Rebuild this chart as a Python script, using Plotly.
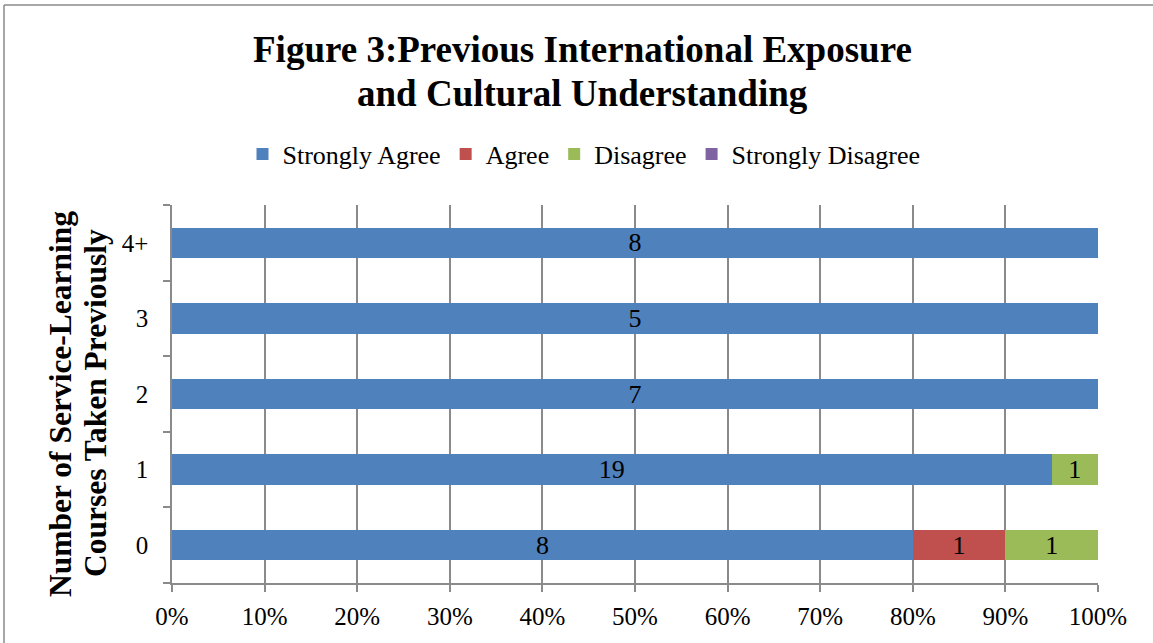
import plotly.graph_objects as go

categories = ["0", "1", "2", "3", "4+"]
strongly_agree = [8, 19, 7, 5, 8]
agree = [1, 0, 0, 0, 0]
disagree = [1, 1, 0, 0, 0]
strongly_disagree = [0, 0, 0, 0, 0]
x_ticks = [0, 10, 20, 30, 40, 50, 60, 70, 80, 90, 100]
x_tick_labels = ["0%", "10%", "20%", "30%", "40%", "50%", "60%", "70%", "80%", "90%", "100%"]
title_lines = ["Figure 3:Previous International Exposure", "and Cultural Understanding"]
y_title_lines = ["Number of Service-Learning", "Courses Taken Previously"]

series = [
    ("Strongly Agree", strongly_agree, "#4F81BD"),
    ("Agree", agree, "#C0504D"),
    ("Disagree", disagree, "#9BBB59"),
    ("Strongly Disagree", strongly_disagree, "#8064A2"),
]

FONT = "Liberation Serif, Times New Roman, serif"

fig = go.Figure()
for name, vals, color in series:
    fig.add_trace(go.Bar(
        y=categories, x=vals, name=name, orientation="h",
        marker=dict(color=color, line=dict(width=0)),
        text=[str(v) if v else "" for v in vals],
        texttemplate="%{text}", textposition="inside", insidetextanchor="middle",
        textfont=dict(family=FONT, size=26, color="black"),
        textangle=0, cliponaxis=False, constraintext="none",
    ))

L, R, T, B = 172, 55, 205, 60
W, H = 1153, 643
pw, ph = W - L - R, H - T - B

def px_x(x):
    return (x - L) / pw

def px_y(y):
    return 1 - (y - T) / ph

GRAY = "#8A8A8A"

annotations = [
    dict(text="<b>" + title_lines[0] + "</b>", xref="paper", yref="paper",
         x=px_x(582), y=px_y(49), xanchor="center", yanchor="middle", showarrow=False,
         font=dict(family=FONT, size=37, color="black")),
    dict(text="<b>" + title_lines[1] + "</b>", xref="paper", yref="paper",
         x=px_x(582), y=px_y(93), xanchor="center", yanchor="middle", showarrow=False,
         font=dict(family=FONT, size=37, color="black")),
    dict(text="<b>" + y_title_lines[0] + "</b>", xref="paper", yref="paper",
         x=px_x(60), y=px_y(404), xanchor="center", yanchor="middle", textangle=-90,
         showarrow=False, font=dict(family=FONT, size=31.5, color="black")),
    dict(text="<b>" + y_title_lines[1] + "</b>", xref="paper", yref="paper",
         x=px_x(95), y=px_y(403), xanchor="center", yanchor="middle", textangle=-90,
         showarrow=False, font=dict(family=FONT, size=31.5, color="black")),
]

fig.update_layout(
    barmode="stack", barnorm="percent", bargap=0.6,
    width=W, height=H,
    margin=dict(l=L, r=R, t=T, b=B, autoexpand=False),
    paper_bgcolor="white", plot_bgcolor="white",
    font=dict(family=FONT, size=25, color="black"),
    legend=dict(
        orientation="h", x=px_x(584), xanchor="center", y=px_y(154), yanchor="middle",
        font=dict(family=FONT, size=26, color="black"),
        traceorder="normal", itemwidth=30,
    ),
    showlegend=True,
    xaxis=dict(
        range=[0, 100], tickvals=x_ticks, ticktext=x_tick_labels,
        showgrid=True, gridcolor=GRAY, gridwidth=1.5,
        showline=True, linecolor=GRAY, linewidth=1.5,
        ticks="outside", ticklen=7, tickcolor=GRAY, tickwidth=1.5,
        tickfont=dict(family=FONT, size=25, color="black"),
        ticklabelstandoff=3,
        zeroline=False, fixedrange=True,
    ),
    yaxis=dict(
        categoryorder="array", categoryarray=categories,
        showline=True, linecolor=GRAY, linewidth=1.5,
        ticks="outside", ticklen=7, tickcolor=GRAY, tickwidth=1.5,
        tickson="boundaries",
        tickfont=dict(family=FONT, size=25, color="black"),
        ticklabelstandoff=17,
        showgrid=False, fixedrange=True,
    ),
    annotations=annotations,
    shapes=[
        dict(type="line", xref="paper", yref="paper",
             x0=px_x(4), x1=px_x(W + 50), y0=px_y(5), y1=px_y(5),
             line=dict(color=GRAY, width=1.5), layer="below"),
        dict(type="line", xref="paper", yref="paper",
             x0=px_x(4), x1=px_x(4), y0=px_y(5), y1=px_y(H + 50),
             line=dict(color=GRAY, width=1.5), layer="below"),
    ],
)

fig.write_html(
    "out.html",
    config={"displayModeBar": False},
    post_script=(
        "document.body.style.margin='0';"
        "document.body.style.overflow='hidden';"
        "document.documentElement.style.overflow='hidden';"
    ),
)
